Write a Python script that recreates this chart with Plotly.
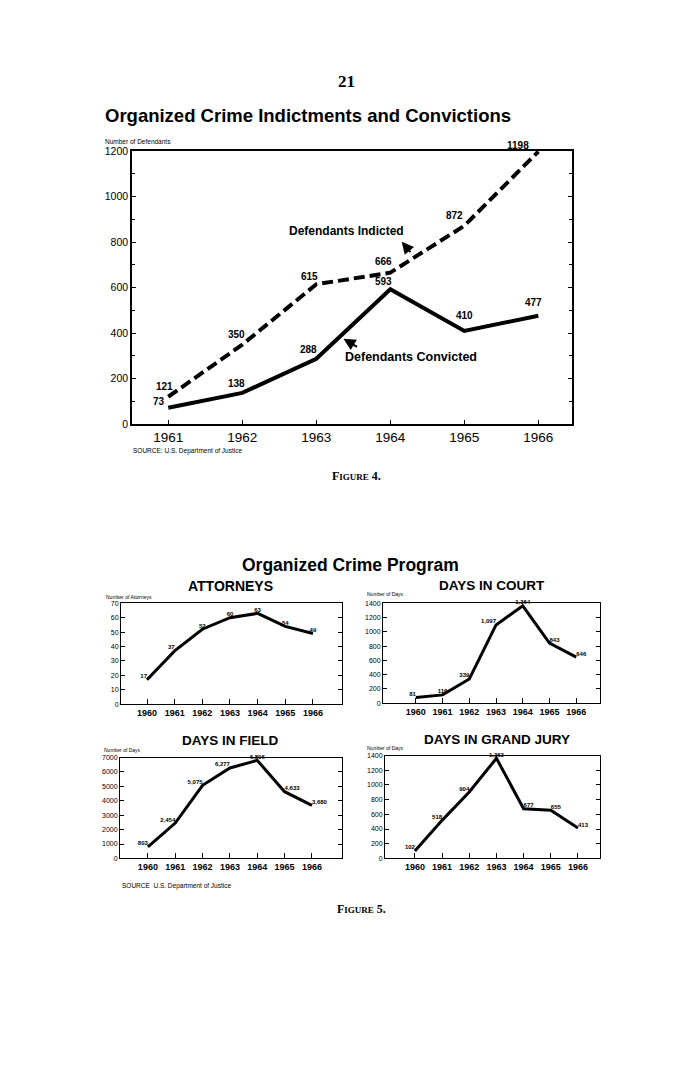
import plotly.graph_objects as go

W, H = 691, 1081

# ---------------- data ----------------
main_years = [1961, 1962, 1963, 1964, 1965, 1966]
indicted = [121, 350, 615, 666, 872, 1198]
convicted = [73, 138, 288, 593, 410, 477]

small_years = [1960, 1961, 1962, 1963, 1964, 1965, 1966]
attorneys = [17, 37, 52, 60, 63, 54, 49]
days_court = [81, 116, 339, 1097, 1364, 843, 646]
days_field = [803, 2454, 5075, 6277, 6806, 4633, 3680]
days_grand_jury = [102, 518, 904, 1363, 677, 655, 413]

# ---------------- layout helpers ----------------
SANS = "Liberation Sans, Arial, sans-serif"
SERIF = "Liberation Serif, DejaVu Serif, serif"


def px(x):
    return x / W


def py(y):
    return 1 - y / H


fig = go.Figure()

# main chart lines
fig.add_trace(go.Scatter(x=main_years, y=indicted, mode="lines",
                         line=dict(color="black", width=4, dash="11px,5px"),
                         xaxis="x", yaxis="y", hoverinfo="skip"))
fig.add_trace(go.Scatter(x=main_years, y=convicted, mode="lines",
                         line=dict(color="black", width=4),
                         xaxis="x", yaxis="y", hoverinfo="skip"))

annotations = []

# main value labels (offsets in pixels)
ind_shift = [(-4, 10), (-6, 10), (-7, 8), (-7, 11), (-10, 10), (-20, 6)]
con_shift = [(-9, 6), (-6, 9), (-8, 9), (-7, 8), (0, 15), (-5, 13)]
for xv, yv, (dx, dy) in zip(main_years, indicted, ind_shift):
    annotations.append(dict(x=xv, y=yv, xref="x", yref="y", text=f"<b>{yv}</b>",
                            showarrow=False, xshift=dx, yshift=dy,
                            font=dict(family=SANS, size=10, color="black")))
for xv, yv, (dx, dy) in zip(main_years, convicted, con_shift):
    annotations.append(dict(x=xv, y=yv, xref="x", yref="y", text=f"<b>{yv}</b>",
                            showarrow=False, xshift=dx, yshift=dy,
                            font=dict(family=SANS, size=10, color="black")))

# small charts
small = [
    ("x2", "y2", attorneys, ["top left", "top left", "top center", "top center", "top center", "top center", "top center"]),
    ("x3", "y3", days_court, ["top left", "top center", "top left", "top left", "top center", "top right", "top right"]),
    ("x4", "y4", days_field, ["top left", "top left", "top left", "top left", "top center", "top right", "top right"]),
    ("x5", "y5", days_grand_jury, ["top left", "top left", "top left", "top center", "top right", "top right", "top right"]),
]
for xa, ya, vals, pos in small:
    fig.add_trace(go.Scatter(x=small_years, y=vals, mode="lines+text",
                             text=[f"<b>{v:,}</b>" for v in vals],
                             textposition=pos,
                             textfont=dict(family=SANS, size=6, color="black"),
                             line=dict(color="black", width=3),
                             xaxis=xa, yaxis=ya, hoverinfo="skip", cliponaxis=False))


def xaxis_cfg(dom, rng, years, size, bold):
    return dict(domain=[px(dom[0]), px(dom[1])], range=rng,
                tickvals=years,
                ticktext=[(f"<b>{y}</b>" if bold else str(y)) for y in years],
                ticks="inside", ticklen=5, tickcolor="black", tickwidth=1,
                showline=True, linecolor="black", linewidth=1.5, mirror=True,
                showgrid=False, zeroline=False,
                tickfont=dict(family=SANS, size=size, color="black"))


def yaxis_cfg(dom, rng, dtick, size, anchor, minor=None):
    cfg = dict(domain=[py(dom[1]), py(dom[0])], range=rng, dtick=dtick, tick0=0,
               ticks="inside", ticklen=4, tickcolor="black", tickwidth=1,
               showline=True, linecolor="black", linewidth=1.5, mirror="ticks",
               showgrid=False, zeroline=False, anchor=anchor,
               tickfont=dict(family=SANS, size=size, color="black"))
    if minor:
        cfg["minor"] = minor
    return cfg


layout = dict(
    width=W, height=H, margin=dict(l=0, r=0, t=0, b=0),
    paper_bgcolor="white", plot_bgcolor="white", showlegend=False,
    xaxis=xaxis_cfg((132, 572), [1960.51, 1966.455], main_years, 13.5, False) | dict(anchor="y"),
    yaxis=yaxis_cfg((146.7, 423), [0, 1200], 200, 10.5, "x",
                    minor=dict(dtick=100, ticks="inside", ticklen=3, tickcolor="black")),
    xaxis2=xaxis_cfg((121, 342), [1959.06, 1967.05], small_years, 9, True) | dict(anchor="y2"),
    yaxis2=yaxis_cfg((604, 706), [0, 70], 10, 7, "x2"),
    xaxis3=xaxis_cfg((383, 600), [1958.77, 1966.89], small_years, 9, True) | dict(anchor="y3"),
    yaxis3=yaxis_cfg((604, 705), [0, 1400], 200, 7, "x3"),
    xaxis4=xaxis_cfg((120, 342), [1958.98, 1967.1], small_years, 9, True) | dict(anchor="y4"),
    yaxis4=yaxis_cfg((760, 862), [0, 7000], 1000, 7, "x4"),
    xaxis5=xaxis_cfg((385, 600), [1958.9, 1966.81], small_years, 9, True) | dict(anchor="y5"),
    yaxis5=yaxis_cfg((758, 862), [0, 1400], 200, 7, "x5"),
)
for k in ["xaxis2", "xaxis3", "xaxis4", "xaxis5", "yaxis2", "yaxis3", "yaxis4", "yaxis5"]:
    layout[k]["linewidth"] = 1


def txt(x, y, text, size, family=SANS, xanchor="center", color="black"):
    annotations.append(dict(x=px(x), y=py(y), xref="paper", yref="paper", text=text,
                            showarrow=False, xanchor=xanchor, yanchor="middle",
                            font=dict(family=family, size=size, color=color)))


txt(347, 76, "<b>21</b>", 17, SERIF)
txt(103, 111, "<b>Organized Crime Indictments and Convictions</b>", 18.5, xanchor="left")
txt(103, 137, "Number of Defendants", 6.5, xanchor="left")
txt(346, 228, "<b>Defendants Indicted</b>", 12)
txt(411, 355, "<b>Defendants Convicted</b>", 12.5)
txt(131, 450, "SOURCE: U.S. Department of Justice", 6.5, xanchor="left")
txt(357, 475, "<b>F<span style='font-size:9px'>IGURE</span> 4.</b>", 12, SERIF)

txt(350, 565, "<b>Organized Crime Program</b>", 17.5)
txt(230, 587, "<b>ATTORNEYS</b>", 14)
txt(492, 586, "<b>DAYS IN COURT</b>", 13.5)
txt(230, 743, "<b>DAYS IN FIELD</b>", 13.5)
txt(497, 742, "<b>DAYS IN GRAND JURY</b>", 13.5)
txt(104, 598, "Number of Attorneys", 5, xanchor="left")
txt(365, 595, "Number of Days", 5, xanchor="left")
txt(102, 752, "Number of Days", 5, xanchor="left")
txt(365, 750, "Number of Days", 5, xanchor="left")
txt(120, 890, "SOURCE  U.S. Department of Justice", 6.5, xanchor="left")
txt(361, 913, "<b>F<span style='font-size:9px'>IGURE</span> 5.</b>", 12, SERIF)

# arrows pointing from the lines to the series names
annotations.append(dict(x=px(401.7), y=py(238.3), xref="paper", yref="paper", text="",
                        showarrow=True, ax=10, ay=12, arrowhead=2, arrowsize=1.2,
                        arrowwidth=2, arrowcolor="black"))
annotations.append(dict(x=px(343.5), y=py(336.5), xref="paper", yref="paper", text="",
                        showarrow=True, ax=15, ay=9, arrowhead=2, arrowsize=1.2,
                        arrowwidth=2, arrowcolor="black"))

layout["annotations"] = annotations
fig.update_layout(**layout)

fig.write_html("out.html", config={"displayModeBar": False},
               post_script="document.body.style.margin='0';document.body.style.padding='0';document.body.style.overflow='hidden';")
